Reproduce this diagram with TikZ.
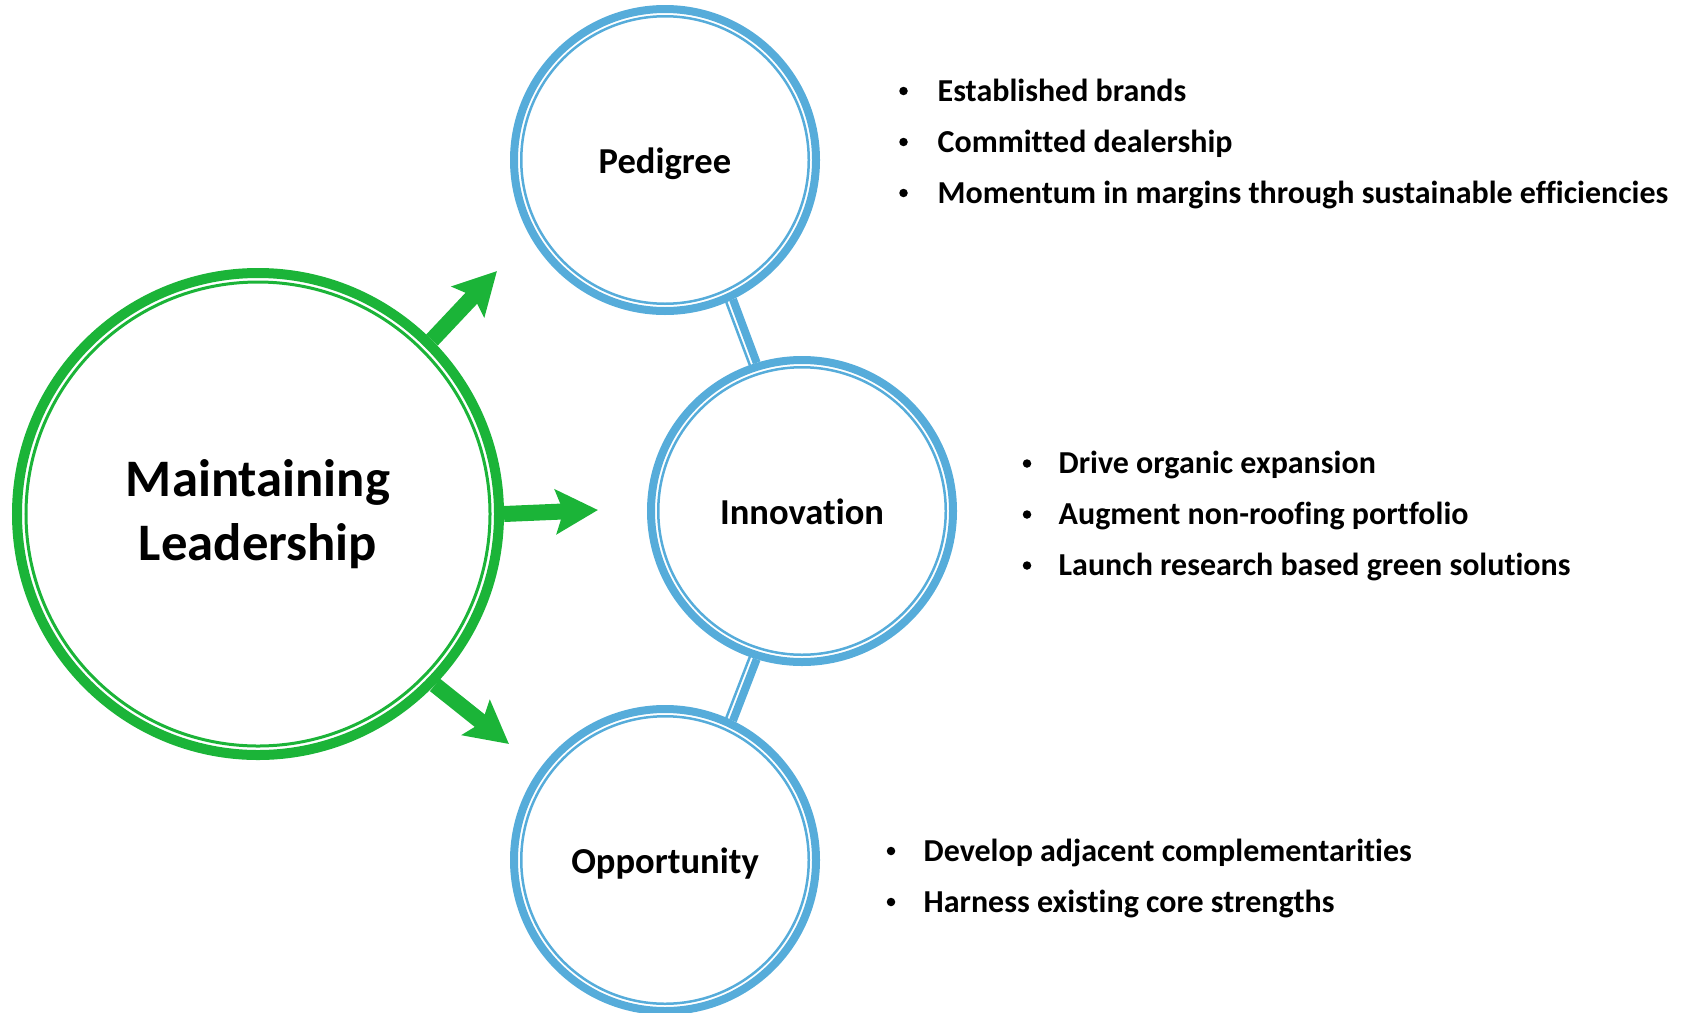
\documentclass[tikz,border=0pt]{standalone}
\usepackage{fontspec}
\setmainfont{Carlito}[Ligatures=NoCommon]
\usetikzlibrary{arrows.meta,positioning}

\definecolor{ringblue}{RGB}{86,172,218}
\definecolor{arrowgreen}{RGB}{27,180,56}

\tikzset{
  topic/.style={circle, draw=ringblue, line width=0.08cm, minimum size=3.02cm, inner sep=0pt,
    text height=0.27cm, text depth=0cm, font=\bfseries\fontsize{10.4}{12.5}\selectfont},
  hub/.style={circle, draw=arrowgreen, line width=0.10cm, minimum size=4.82cm, inner sep=0pt,
    align=center, font=\bfseries\fontsize{15}{18.3}\selectfont},
  push/.style={draw=arrowgreen, line width=0.16cm, -{Stealth[length=4.2mm,width=4.4mm,inset=0.75mm]}},
  chainlink/.style={draw=ringblue, line width=0.08cm},
  thinring/.style={draw=ringblue, line width=0.025cm},
  bulletmark/.style={circle, fill=black, minimum size=0.085cm, inner sep=0pt},
  itemtext/.style={anchor=base west, inner sep=0pt, font=\bfseries\fontsize{9.1}{10}\selectfont},
}

\begin{document}
\begin{tikzpicture}

\useasboundingbox (0,0) rectangle (16.86,10.12);

% the three topics and the hub
\node[topic] (ped) at (6.65,8.52) {Pedigree};
\node[topic] (inn) at (8.02,5.01) {Innovation};
\node[topic] (opp) at (6.65,1.52) {Opportunity};
\node[hub] (lead) at (2.58,4.98) {Maintaining\\Leadership};

% thin inner rings
\foreach \c in {ped,inn,opp}
  \draw[thinring] (\c.center) circle (1.4375);
\draw[arrowgreen, line width=0.03cm] (lead.center) circle (2.32);

% links between the topics (thick + thin)
\draw[chainlink] (ped.-64.5) -- (inn.107);
\draw[thinring, transform canvas={shift={(-0.0675,-0.026)}}] (ped.-64.5) -- (inn.107);
\draw[chainlink] (inn.-107) -- (opp.64.5);
\draw[thinring, transform canvas={shift={(-0.0675,0.026)}}] (inn.-107) -- (opp.64.5);

% arrows out of the hub
\coordinate (tipP) at (4.97,7.41);
\coordinate (tipI) at (5.98,5.02);
\coordinate (tipO) at (5.09,2.68);
\draw[push] (lead.45) -- (tipP);
\draw[push] (lead.east) -- (tipI);
\draw[push] (lead.-44) -- (tipO);

% bullet lists
\foreach \txt [count=\i] in {Established brands, Committed dealership,
    Momentum in margins through sustainable efficiencies}{
  \node[bulletmark] (pb\i) at (9.035,{9.21-0.51*(\i-1)}) {};
  \node[itemtext] (pt\i) at (9.37,{9.11-0.51*(\i-1)}) {\txt};
}
\foreach \txt [count=\i] in {Drive organic expansion, Augment non-roofing portfolio,
    Launch research based green solutions}{
  \node[bulletmark] (ib\i) at (10.27,{5.485-0.51*(\i-1)}) {};
  \node[itemtext] (it\i) at (10.58,{5.385-0.51*(\i-1)}) {\txt};
}
\foreach \txt [count=\i] in {Develop adjacent complementarities, Harness existing core strengths}{
  \node[bulletmark] (ob\i) at (8.91,{1.61-0.51*(\i-1)}) {};
  \node[itemtext] (ot\i) at (9.23,{1.51-0.51*(\i-1)}) {\txt};
}

\end{tikzpicture}
\end{document}
